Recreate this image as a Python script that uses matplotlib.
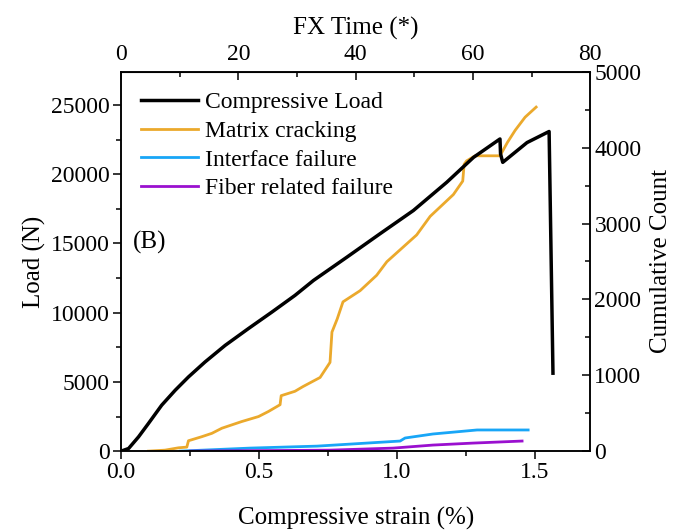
import matplotlib
matplotlib.use("Agg")
import matplotlib.pyplot as plt
from matplotlib.lines import Line2D
from matplotlib.ticker import FixedLocator, MultipleLocator

plt.rcParams["font.family"] = ["Liberation Serif", "DejaVu Serif"]

# compressive load (left axis)
load_strain = [0, 0.027, 0.063, 0.099, 0.147, 0.196, 0.244, 0.304, 0.377, 0.461, 0.546,
               0.63, 0.697, 0.818, 0.938, 1.059, 1.18, 1.277, 1.373, 1.375, 1.383,
               1.471, 1.551, 1.565]
load_n = [0, 190, 1030, 2000, 3320, 4400, 5360, 6440, 7640, 8850, 10040,
          11250, 12330, 14010, 15700, 17380, 19420, 21220, 22550, 21470, 20860,
          22290, 23090, 5630]

# cumulative AE counts (right axis)
matrix_strain = [0.099, 0.159, 0.208, 0.238, 0.244, 0.292, 0.329, 0.365, 0.437, 0.498,
                 0.534, 0.576, 0.58, 0.63, 0.659, 0.721, 0.757, 0.764, 0.783, 0.804,
                 0.866, 0.926, 0.963, 1.071, 1.12, 1.204, 1.238, 1.243, 1.252, 1.283,
                 1.373, 1.40, 1.428, 1.464, 1.504]
matrix_count = [0, 13, 44, 53, 137, 190, 235, 302, 390, 456,
                523, 612, 731, 789, 851, 971, 1170, 1569, 1742, 1968,
                2115, 2318, 2497, 2850, 3095, 3382, 3560, 3781, 3826, 3893,
                3893, 4070, 4229, 4402, 4535]

interface_strain = [0.214, 0.467, 0.71, 1.011, 1.029, 1.13, 1.29, 1.475]
interface_count = [0, 40, 66, 133, 173, 226, 279, 279]

fiber_strain = [0.25, 0.757, 0.986, 1.13, 1.275, 1.453]
fiber_count = [0, 13, 40, 80, 106, 133]

time_ticks = [0, 20, 40, 60, 80]

labels = ["Compressive Load", "Matrix cracking", "Interface failure", "Fiber related failure"]
colors = ["black", "#EBA92C", "#18A6F7", "#9A10CF"]

fig = plt.figure(figsize=(6.73, 5.32), dpi=100)
ax = fig.add_axes([0.180, 0.152, 0.697, 0.713])
ax2 = ax.twinx()

ax2.plot(matrix_strain, matrix_count, color=colors[1], lw=2)
ax2.plot(interface_strain, interface_count, color=colors[2], lw=2)
ax2.plot(fiber_strain, fiber_count, color=colors[3], lw=2)
ax.plot(load_strain, load_n, color=colors[0], lw=2.5)
ax.set_zorder(ax2.get_zorder() + 1)
ax.patch.set_visible(False)

ax.set_xlim(0, 1.7)
ax.set_ylim(0, 27400)
ax2.set_ylim(0, 5000)

ax.xaxis.set_major_locator(MultipleLocator(0.5))
ax.xaxis.set_minor_locator(MultipleLocator(0.25))
ax.yaxis.set_major_locator(MultipleLocator(5000))
ax.yaxis.set_minor_locator(MultipleLocator(2500))
ax2.yaxis.set_major_locator(MultipleLocator(1000))
ax2.yaxis.set_minor_locator(MultipleLocator(500))
ax.xaxis.set_major_formatter(plt.FuncFormatter(lambda v, p: f"{v:.1f}"))

top = ax.secondary_xaxis("top", functions=(lambda x: x * 80 / 1.7, lambda t: t * 1.7 / 80))
top.xaxis.set_major_locator(FixedLocator(time_ticks))
top.xaxis.set_minor_locator(FixedLocator([10, 30, 50, 70]))

fs = 17
ax.tick_params(axis="both", which="major", direction="out", length=6, width=1.1, labelsize=fs, pad=2)
ax.tick_params(axis="both", which="minor", direction="out", length=3.5, width=1.1)
ax2.tick_params(axis="y", which="major", direction="in", length=6, width=1.1, labelsize=fs, pad=3)
ax2.tick_params(axis="y", which="minor", direction="in", length=3.5, width=1.1)
top.tick_params(axis="x", which="major", direction="in", length=6, width=1.1, labelsize=fs, pad=5)
top.tick_params(axis="x", which="minor", direction="in", length=3.5, width=1.1)

for a in (ax, ax2):
    for s in a.spines.values():
        s.set_linewidth(1.1)

ax.set_xlabel("Compressive strain (%)", fontsize=18, labelpad=17)
ax.set_ylabel("Load (N)", fontsize=18, labelpad=4)
ax2.set_ylabel("Cumulative Count", fontsize=18, labelpad=6)
top.set_xlabel("FX Time (*)", fontsize=18, labelpad=7)

ax.text(0.025, 0.55, "(B)", transform=ax.transAxes, fontsize=18, va="center")

handles = [Line2D([], [], color=c, lw=2.5 if i == 0 else 2) for i, c in enumerate(colors)]
ax.legend(handles, labels, loc="upper left", frameon=False, fontsize=fs,
          handlelength=2.4, handletextpad=0.3, labelspacing=0.3,
          borderaxespad=0.45, bbox_to_anchor=(0.0, 1.0))

fig.savefig("out.png", dpi=100)
